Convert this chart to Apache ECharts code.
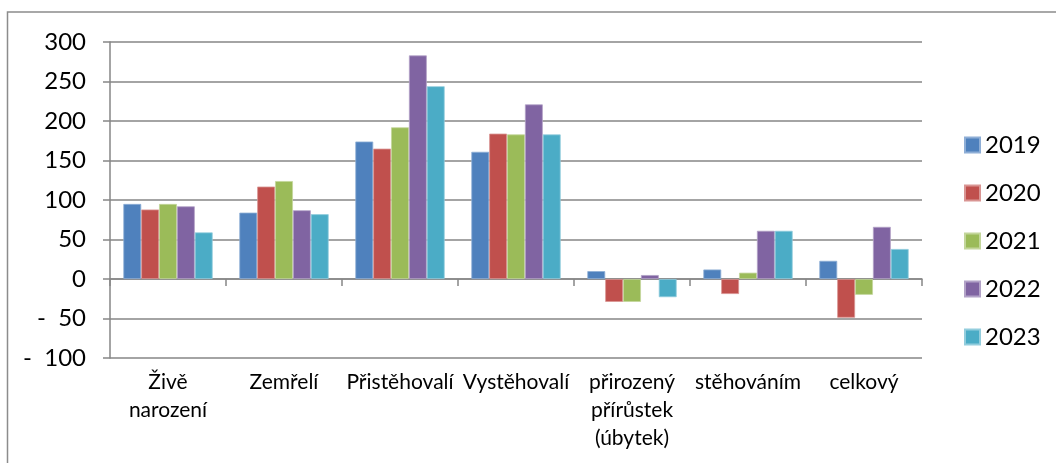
<!DOCTYPE html>
<html>
<head>
<meta charset="utf-8">
<script src="https://cdn.jsdelivr.net/npm/echarts@6/dist/echarts.min.js"></script>
<style>
html,body{margin:0;padding:0;background:#fff;}
#chart{width:1056px;height:463px;}
</style>
</head>
<body>
<div id="chart"></div>
<script>
const categories = ['Živě\nnarození', 'Zemřelí', 'Přistěhovalí', 'Vystěhovalí', 'přirozený\npřírůstek\n(úbytek)', 'stěhováním', 'celkový'];
const years = ['2019', '2020', '2021', '2022', '2023'];
const v2019 = [95, 84, 174, 161, 10, 12, 23];
const v2020 = [88, 117, 165, 184, -29, -19, -49];
const v2021 = [95, 124, 192, 183, -29, 8, -20];
const v2022 = [92, 87, 283, 221, 5, 61, 66];
const v2023 = [59, 82, 244, 183, -23, 61, 38];
const yTicks = { min: -100, max: 300, interval: 50 };

const seriesValues = [v2019, v2020, v2021, v2022, v2023];
const colors = ['#4F81BD', '#C0504D', '#9BBB59', '#8064A2', '#4BACC6'];
const borders = ['#8eaed6', '#d99593', '#c3d69b', '#b2a2c7', '#93cddd'];
const gridColor = '#868686';
const font = 'Lato, "Open Sans", sans-serif';

const chart = echarts.init(document.getElementById('chart'), null, { renderer: 'canvas' });
chart.setOption({
  animation: false,
  backgroundColor: '#fff',
  color: colors,
  graphic: [{
    type: 'rect',
    shape: { x: 7.5, y: 12, width: 1200, height: 600 },
    style: { fill: 'none', stroke: '#8c8c8c', lineWidth: 1.5 },
    silent: true, z: -1
  }],
  grid: { left: 110, right: 134, top: 42, bottom: 105, containLabel: false },
  legend: {
    orient: 'vertical',
    left: 964,
    top: 131,
    padding: 0,
    itemWidth: 15,
    itemHeight: 15,
    itemGap: 20,
    icon: 'rect',
    textStyle: { fontFamily: font, fontSize: 24, color: '#000', lineHeight: 28 },
    data: years
  },
  xAxis: [{
    type: 'category',
    data: categories,
    position: 'bottom',
    axisLine: { show: false, onZero: false },
    axisTick: { show: false },
    axisLabel: {
      interval: 0,
      margin: 10,
      fontFamily: font,
      fontSize: 21,
      lineHeight: 28,
      color: '#000'
    }
  }, {
    type: 'category',
    data: categories,
    position: 'top',
    axisLine: { show: true, onZero: true, lineStyle: { color: gridColor, width: 1.5 } },
    axisTick: { show: true, inside: true, length: 7, alignWithLabel: false, lineStyle: { color: gridColor, width: 1.5 } },
    axisLabel: { show: false }
  }],
  yAxis: {
    type: 'value',
    min: yTicks.min,
    max: yTicks.max,
    interval: yTicks.interval,
    axisLine: { show: true, lineStyle: { color: gridColor, width: 1.5 } },
    axisTick: { show: true, length: 7, lineStyle: { color: gridColor, width: 1.5 } },
    splitLine: { show: true, lineStyle: { color: gridColor, width: 1.5 } },
    axisLabel: {
      margin: 24,
      fontFamily: font,
      fontSize: 24,
      color: '#000',
      formatter: function (v) { return v < 0 ? '-  ' + Math.abs(v) : String(v); }
    }
  },
  series: seriesValues.map(function (vals, i) {
    return {
      name: years[i],
      type: 'bar',
      xAxisIndex: 0,
      data: vals,
      barGap: '0%',
      barCategoryGap: '23%',
      itemStyle: { color: colors[i], borderColor: borders[i], borderWidth: 0.8 }
    };
  })
});
</script>
</body>
</html>
